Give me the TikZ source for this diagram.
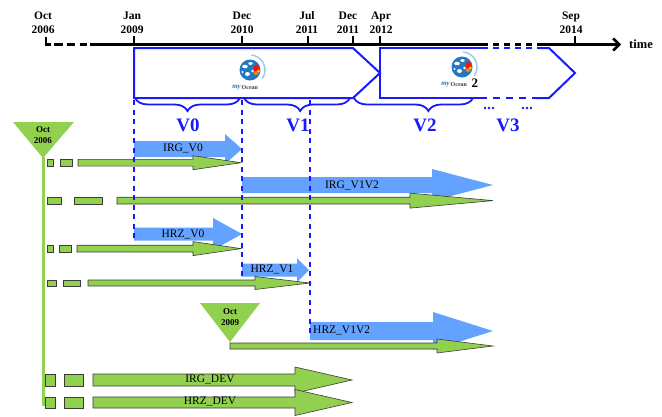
\documentclass[tikz,border=0pt]{standalone}
\usepackage{fontspec}
\setmainfont{Liberation Serif}
\usetikzlibrary{arrows.meta,decorations.pathreplacing}
\definecolor{lblue}{RGB}{25,25,255}
\definecolor{ablue}{RGB}{100,162,255}
\definecolor{agreen}{RGB}{146,208,80}
\definecolor{gline}{RGB}{60,60,60}
\definecolor{globecol}{RGB}{35,120,195}
\definecolor{arccol}{RGB}{160,200,232}
\newcommand\ArrPoly[7]{% style, x1, xhead, xtip, yc, body half, head half
  \draw[#1] ({#2},{#5-#6}) -- ({#3},{#5-#6}) -- ({#3},{#5-#7}) -- ({#4},{#5})
    -- ({#3},{#5+#7}) -- ({#3},{#5+#6}) -- ({#2},{#5+#6}) -- cycle;}
\newcommand\MyLogo[2]{% center x, y
  \begin{scope}[shift={(#1,#2)}]
    \draw[arccol, line width=1.4pt] (-85:15) arc (-85:35:15);
    \fill[globecol] (0,0) circle (10.5);
    \fill[white] (-5,-3.5) ellipse (2.8 and 1.8);
    \fill[white] (0.5,-6.5) ellipse (2.2 and 1.4);
    \fill[white] (-2.5,4) ellipse (2.4 and 2);
    \fill[white] (2.5,1) circle (1.4);
    \fill[white] (-7.5,2) circle (1.1);
    \fill[red!85!orange] (6.5,-1.5) ellipse (2.8 and 4);
    \fill[orange] (6,3) ellipse (2.4 and 2);
    \fill[yellow!90!orange] (8.3,1) circle (1.5);
  \end{scope}}
\tikzset{
  gstyle/.style={fill=agreen, draw=gline, line width=0.6pt, line join=miter},
  bstyle/.style={fill=ablue, draw=none},
  vdash/.style={draw=lblue, line width=1.7pt, dash pattern=on 5pt off 4.5pt},
  bbox/.style={draw=lblue, line width=2pt, line join=miter},
  axisl/.style={draw=black, line width=2.6pt},
  tickl/.style={draw=black, line width=2pt},
  tl/.style={font=\fontsize{11.5}{14}\selectfont\bfseries, align=center, inner sep=0pt},
  vlab/.style={font=\fontsize{19}{19}\selectfont\bfseries, text=lblue, inner sep=0pt},
  alab/.style={font=\fontsize{11.5}{12}\selectfont, inner sep=0pt},
  trilab/.style={font=\fontsize{9}{10.5}\selectfont\bfseries, align=center, inner sep=0pt},
  brc/.style={draw=lblue, line width=1.8pt, decorate},
  logotxt/.style={font=\fontsize{6}{6}\selectfont\bfseries, inner sep=0pt, text=black!75},
  logomy/.style={font=\fontsize{7}{7}\selectfont\itshape\bfseries, inner sep=0pt, text=globecol},
}
\begin{document}
\begin{tikzpicture}[x=1pt,y=-1pt]
\useasboundingbox (0,0) rectangle (662,416);
\fill[white] (0,0) rectangle (662,416);

% ---------- blue release boxes ----------
\draw[bbox] (134,48) -- (353,48) -- (380,73) -- (353,98) -- (134,98) -- cycle;
\draw[bbox] (482,48) -- (380,48) -- (380,98) -- (480,98);
\draw[bbox, dash pattern=on 6pt off 5pt] (482,48) -- (538,48);
\draw[bbox, dash pattern=on 7pt off 6pt] (480,98) -- (536,98);
\draw[bbox] (538,48) -- (549,48) -- (575,73) -- (549,98) -- (536,98);

% ---------- timeline ----------
\coordinate (o6a) at (46,37);
\coordinate (o6b) at (46,44.5);
\coordinate (o6c) at (51,44.5);
\draw[axisl, line join=miter] (o6a) -- (o6b) -- (o6c);
\draw[axisl] (54,44.5) -- (63,44.5);
\draw[axisl] (67,44.5) -- (75,44.5);
\draw[axisl] (80,44.5) -- (87,44.5);
\coordinate (axs) at (90,44.5);
\coordinate (axm1) at (482,44.5);
\coordinate (axm2) at (538,44.5);
\coordinate (axe) at (621,44.5);
\draw[axisl] (axs) -- (axm1);
\draw[axisl, dash pattern=on 6pt off 5pt] (axm1) -- (axm2);
\draw[axisl, -{Straight Barb[length=6pt,width=12pt]}] (axm2) -- (axe);
\foreach \x in {134,242,308,353,380,575} \draw[tickl] (\x,36) -- (\x,44);

\node[tl] (t06) at (43,23) {Oct\\2006};
\node[tl] (t09) at (132,23) {Jan\\2009};
\node[tl] (t10) at (242,23) {Dec\\2010};
\node[tl] (t11a) at (307,23) {Jul\\2011};
\node[tl] (t11b) at (348,23) {Dec\\2011};
\node[tl] (t12) at (381,23) {Apr\\2012};
\node[tl] (t14) at (571,23) {Sep\\2014};
\node[font=\fontsize{12.5}{12}\selectfont\bfseries, inner sep=0pt] (time) at (641,44) {time};

% ---------- logos ----------
\MyLogo{250}{70}
\node[logomy, anchor=east] (l1my) at (241,87.5) {my};
\node[logotxt, anchor=west] (l1oc) at (241.5,88) {Ocean};
\MyLogo{462}{67}
\node[logomy, anchor=east] (l2my) at (450,84.5) {my};
\node[logotxt, anchor=west] (l2oc) at (450.5,85) {Ocean};
\node[font=\fontsize{13}{13}\selectfont\bfseries, inner sep=0pt, anchor=west] (l2two) at (471.5,83) {2};

% ---------- braces ----------
\draw[brc, decoration={brace, mirror, amplitude=13pt, aspect=0.5}] (135,98) -- (240,98);
\draw[brc, decoration={brace, mirror, amplitude=13pt, aspect=0.53}] (244,98) -- (350,98);
\draw[brc, decoration={brace, mirror, amplitude=13pt, aspect=0.625}] (354,98) -- (473,98);
\foreach \x in {485,489,493,523,527,531} \fill[lblue] (\x,108) circle (1.3);
\node[vlab] (v0) at (188,125) {V0};
\node[vlab] (v1) at (298,125) {V1};
\node[vlab] (v2) at (425,125) {V2};
\node[vlab] (v3) at (508,125) {V3};

% ---------- triangles and green trunk ----------
\fill[agreen] (13,122) -- (74,122) -- (43,158) -- cycle;
\coordinate (ap1) at (43,157);
\coordinate (trunkend) at (43,406);
\draw[agreen, line width=3pt] (ap1) -- (trunkend);
\node[trilab] (tri1) at (43,135) {Oct\\2006};
\fill[agreen] (200,303) -- (260,303) -- (230,342) -- cycle;
\node[trilab] (tri2) at (230,317) {Oct\\2009};

% ---------- blue arrows ----------
\ArrPoly{bstyle}{134}{225}{242}{149}{8}{15}
\ArrPoly{bstyle}{242}{432}{493}{185}{8}{16}
\ArrPoly{bstyle}{134}{213}{242}{234}{6.5}{16}
\ArrPoly{bstyle}{242}{297}{309}{270}{6.5}{12}
\ArrPoly{bstyle}{310}{433}{493}{331}{9}{19}

% ---------- green arrows ----------
% row 1
\draw[gstyle] (47,159.3) rectangle (53,166);
\draw[gstyle] (60,159.3) rectangle (72,166);
\ArrPoly{gstyle}{78}{193}{241}{162.7}{3.4}{7}
% row 2
\draw[gstyle] (47,197.2) rectangle (61,204);
\draw[gstyle] (74,197.2) rectangle (102,204);
\ArrPoly{gstyle}{117}{410}{493}{200.6}{3.4}{7.5}
% row 3
\draw[gstyle] (47,245.2) rectangle (53,252);
\draw[gstyle] (59,245.2) rectangle (71,252);
\ArrPoly{gstyle}{77}{193}{241}{248.6}{3.4}{7}
% row 4
\draw[gstyle] (47,280) rectangle (56,286);
\draw[gstyle] (63,280) rectangle (80,286);
\ArrPoly{gstyle}{88}{255}{310}{283}{3}{6.5}
% row 5
\ArrPoly{gstyle}{230}{437}{493}{346}{3}{7}
% row 6
\draw[gstyle] (45,374) rectangle (55,386);
\draw[gstyle] (64,374) rectangle (83,386);
\ArrPoly{gstyle}{93}{295}{352}{380}{6}{13}
% row 7
\draw[gstyle] (45,397) rectangle (55,408);
\draw[gstyle] (64,397) rectangle (83,408);
\ArrPoly{gstyle}{93}{295}{352}{402.5}{5.5}{13}

% ---------- dashed release lines ----------
\coordinate (d1a) at (134,100);
\coordinate (d1b) at (134,240);
\coordinate (d2a) at (242,100);
\coordinate (d2b) at (242,277);
\coordinate (d3a) at (310,100);
\coordinate (d3b) at (310,337);
\draw[vdash] (d1a) -- (d1b);
\draw[vdash] (d2a) -- (d2b);
\draw[vdash] (d3a) -- (d3b);

% ---------- arrow labels ----------
\node[alab] (irgv0) at (183,148) {IRG\_V0};
\node[alab] (irgv1v2) at (352,185) {IRG\_V1V2};
\node[alab] (hrzv0) at (183,234) {HRZ\_V0};
\node[alab] (hrzv1) at (272,269) {HRZ\_V1};
\node[alab, anchor=west] (hrzv1v2) at (313,330) {HRZ\_V1V2};
\node[alab] (irgdev) at (210,379.5) {IRG\_DEV};
\node[alab] (hrzdev) at (210,401.5) {HRZ\_DEV};
\end{tikzpicture}
\end{document}
